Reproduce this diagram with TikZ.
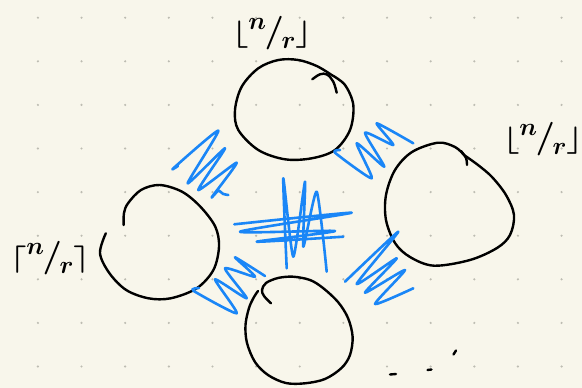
\documentclass[tikz,border=0pt]{standalone}
\usepackage{amsmath}
\usepackage{graphicx}
\usepackage{tikz}
\usepackage{xcolor}
\definecolor{skPaper}{HTML}{F8F6EB}
\definecolor{skDot}{HTML}{BDBCB2}
\definecolor{skBlue}{HTML}{1A86F7}
\tikzset{
  pen/.style={draw=black, line width=2.4pt, line cap=round, line join=round},
  scrib/.style={draw=skBlue, line width=2.6pt, line cap=round, line join=round},
  gridpt/.style={fill=skDot},
  frac/.style={inner sep=0pt, font=\fontsize{28}{30}\selectfont\boldmath}
}
% hand written n over r
\newcommand{\nr}{\raisebox{0.42em}{$n$}\kern-0.05em\scalebox{1.35}{$/$}\kern-0.08em\raisebox{-0.25em}{$r$}}
\newcommand{\brk}[1]{\scalebox{1.25}[1.1]{$#1$}}

\begin{document}
\begin{tikzpicture}[x=1pt,y=-1pt]
  \fill[skPaper] (0,0) rectangle (582,388);
  \useasboundingbox (0,0) rectangle (582,388);
  % dotted paper
  \foreach \i in {0,...,12}
    \foreach \j in {0,...,8}
      \fill[gridpt] ({37.9+43.64*\i},{17.7+43.6*\j}) circle[radius=1.2pt];

  % vertices
  \draw[pen] plot[smooth, tension=0.55] coordinates {(331.7,75) (345,85) (353.3,105) (350,130) (335,150) (311.7,158.3) (285,159.3) (258.3,150) (238.3,130) (235,110) (241.7,86.7) (258.3,68.3) (278.3,60) (298.3,60) (316.7,66) (331.7,75)};
  \draw[pen] plot[smooth, tension=0.6] coordinates {(312.3,79.3) (320,74.3) (327,74.5) (333.3,81.7) (336.7,92.7)};
  \draw[pen] plot[smooth, tension=0.55] coordinates {(464,155) (478,165) (492,177) (506,195) (514,215) (510,235) (497,248) (470,260) (434,265.7) (410,257) (395,243) (386,220) (386,195) (395,170) (412,152) (438,142.7) (455,147) (464,155)};
  \draw[pen] plot[smooth, tension=0.6] coordinates {(461,151) (466,158) (467,165)};
  \draw[pen] plot[smooth, tension=0.55] coordinates {(123.6,225) (124,213) (128,203.3) (141,190) (159.6,185) (182,191.7) (200.4,206.7) (215.3,226.7) (219,246.7) (213.4,270) (196.7,288.3) (170.7,298.3) (148.5,298.3) (126.2,290) (109.5,273.3) (100,253.3) (105.8,233.3)};
  \draw[pen] plot[smooth, tension=0.55] coordinates {(271,303.3) (264,296) (262,290) (266,283) (278,278) (293,276.7) (310,280) (323,288) (338,302) (348,318) (352.6,336.7) (350,355) (341.5,368) (325,379) (305,383.3) (285.8,383) (268,375) (255,362) (247,343) (245.5,325) (249,308) (254,297) (258,291)};

  % labels
  \node[frac] (lbltop) at (272,33) {\brk{\lfloor}\nr\brk{\rfloor}};
  \node[frac] (lblright) at (543,139) {\brk{\lfloor}\nr\brk{\rfloor}};
  \node[frac] (lblleft) at (50,258) {\brk{\lceil}\nr\brk{\rceil}};

  % edges
  \draw[scrib] plot[smooth, tension=0.35] coordinates {(178,166) (173.3,168.3) (218.3,130.7) (187.7,183.3) (225,148.3) (198.3,190) (236.7,162.7) (211.7,197.3) (218.3,190.7) (223.3,194) (228.3,195)};
  \draw[scrib] plot[smooth, tension=0.35] coordinates {(340,150) (335,152.7) (371.7,178.3) (356.7,143.3) (384.3,166.7) (365,132.7) (393.3,145) (376.7,123.3) (413.3,143.3)};
  \draw[scrib] plot[smooth, tension=0.35] coordinates {(199,288) (193.3,290.7) (236.7,313.3) (215,279.3) (246.7,298.3) (225,268.3) (255,276.7) (235,257.3) (265,276)};
  \draw[scrib] plot[smooth, tension=0.35] coordinates {(345,281.7) (398.3,231.7) (356.7,284) (396.7,258.3) (365,292.7) (405,270) (375,304) (413.3,288.3)};
  \draw[scrib] plot[smooth, tension=0.35] coordinates {(286.7,268.3) (283.3,178.3) (293.3,256.7) (305,181.7) (303.3,246.7) (316.7,191.7) (326.7,271.7)};
  \draw[scrib] plot[smooth, tension=0.4] coordinates {(234.3,224.3) (351.7,212.7) (240,231.7) (335,231) (256.7,241.7) (343.3,236.7)};

  % trailing marks
  \draw[pen] (390,374.5) -- (396,374);
  \draw[pen] (427.5,370) -- (431.5,369.5);
  \draw[pen] (453.5,354.5) -- (456,350.5);
\end{tikzpicture}
\end{document}
